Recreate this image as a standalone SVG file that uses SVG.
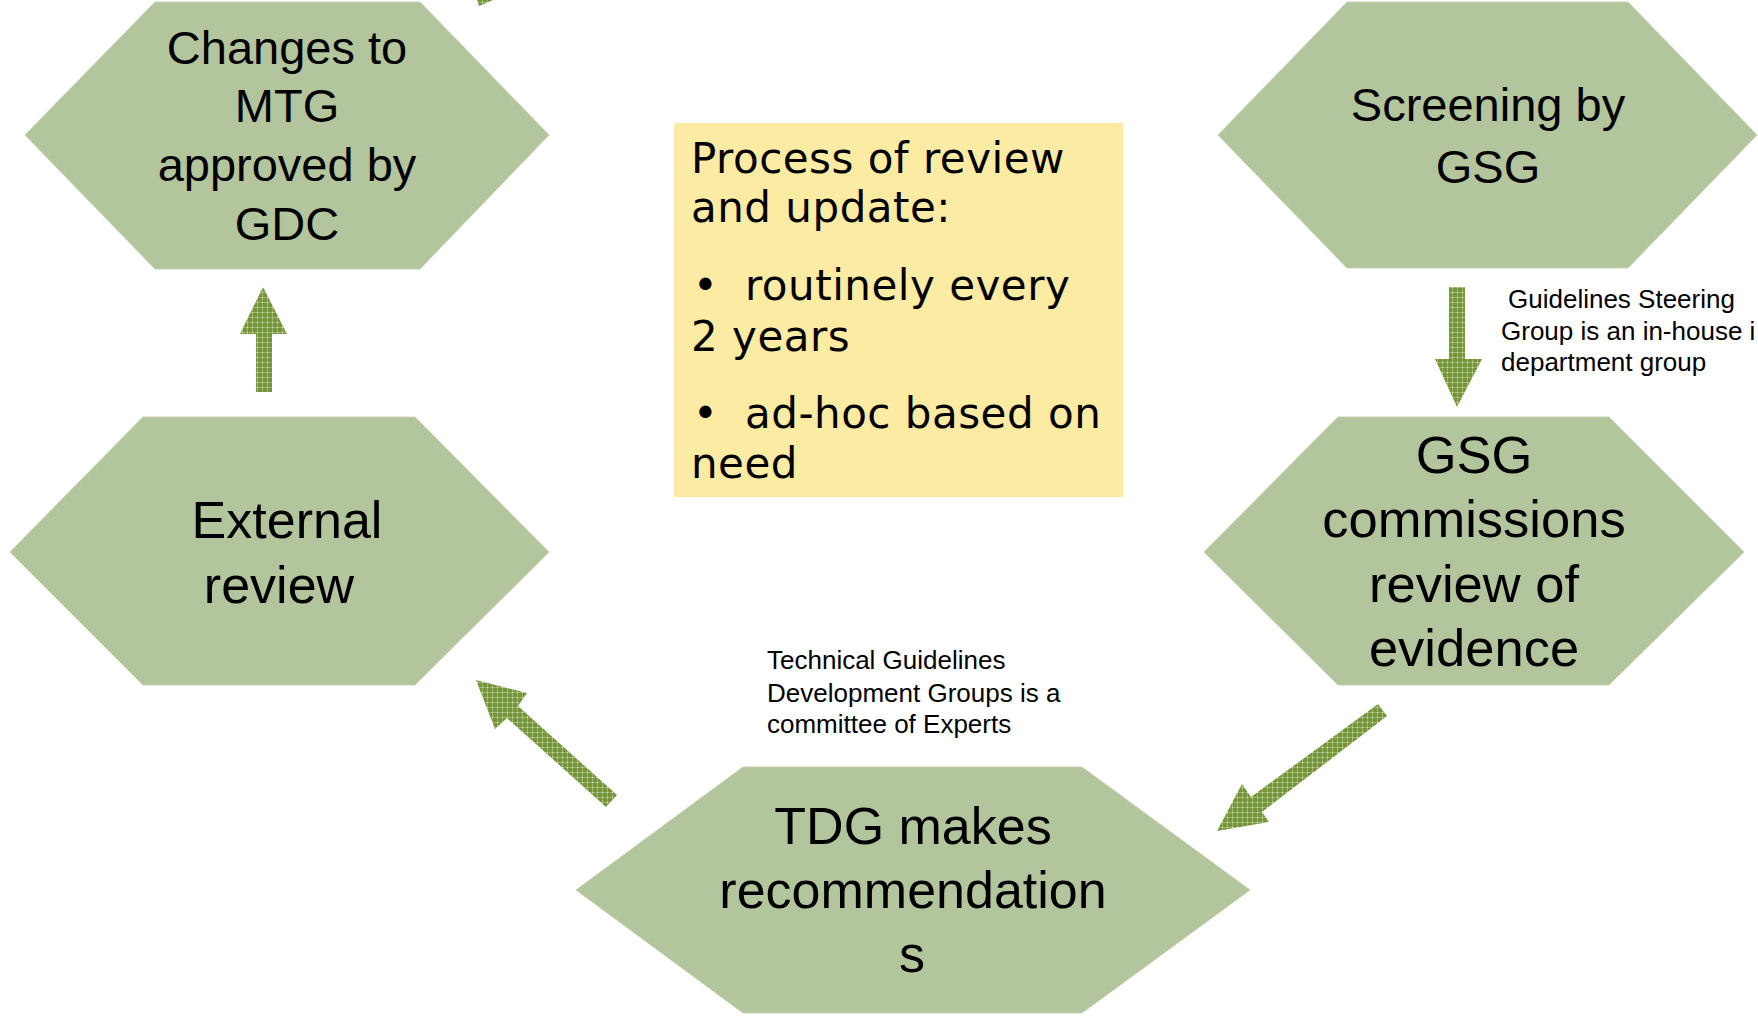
<svg xmlns="http://www.w3.org/2000/svg" width="1758" height="1016" viewBox="0 0 1758 1016">
<defs>
<pattern id="plaid" width="5" height="5" patternUnits="userSpaceOnUse">
<rect width="5" height="5" fill="#76933D"/>
<rect x="0" y="2" width="5" height="1" fill="#9AB767"/>
<rect x="2" y="0" width="1" height="5" fill="#9AB767"/>
<rect x="2" y="2" width="1" height="1" fill="#D6E3C2"/>
</pattern>
<style>
.hex{fill:#B3C59D;stroke:#C4D2B2;stroke-width:1}
.ht{font-family:"Liberation Sans",Arial,sans-serif;fill:#000;text-anchor:middle}
.note{font-family:"Liberation Sans",Arial,sans-serif;font-size:26px;fill:#000}
.box{font-family:"DejaVu Sans",Verdana,sans-serif;font-size:42px;letter-spacing:0.5px;fill:#000}
.arrow{fill:url(#plaid)}
</style>
</defs>
<rect width="1758" height="1016" fill="#FFFFFF"/>

<g id="connectors">
<polygon class="arrow" points="477,0 493,0 479,6"/>
<polygon class="arrow" points="256,392 272,392 272,334 287,334 263,287 240,334 256,334"/>
<polygon class="arrow" points="1449,287 1465,287 1465,359 1482,359 1457,407 1435,359 1449,359"/>
<polygon class="arrow" points="1378,704 1387,716 1262,812 1269,822 1217,831 1242,784 1251,797"/>
<polygon class="arrow" points="617,795 606,807 507,718 495,729 476,680 527,693 518,706"/>
</g>

<g id="node-changes">
<polygon class="hex" points="25,135 155,2 420,2 549,135 420,269 155,269"/>
<text class="ht" font-size="47" x="287" y="64">Changes to</text>
<text class="ht" font-size="47" x="287" y="122">MTG</text>
<text class="ht" font-size="47" x="287" y="181">approved by</text>
<text class="ht" font-size="47" x="287" y="240">GDC</text>
</g>

<g id="node-screening">
<polygon class="hex" points="1218,135 1347,2 1628,2 1757,135 1628,268 1347,268"/>
<text class="ht" font-size="47" x="1488" y="121">Screening by</text>
<text class="ht" font-size="47" x="1488" y="183">GSG</text>
</g>

<g id="node-external">
<polygon class="hex" points="10,552 143,417 415,417 549,552 415,685 143,685"/>
<text class="ht" font-size="52" x="287" y="538">External</text>
<text class="ht" font-size="52" x="279" y="603">review</text>
</g>

<g id="node-commissions">
<polygon class="hex" points="1204,552 1338,417 1609,417 1744,552 1609,685 1338,685"/>
<text class="ht" font-size="52.5" x="1474" y="473">GSG</text>
<text class="ht" font-size="52.5" x="1474" y="537">commissions</text>
<text class="ht" font-size="52.5" x="1474" y="602">review of</text>
<text class="ht" font-size="52.5" x="1474" y="666">evidence</text>
</g>

<g id="node-tdg">
<polygon class="hex" points="576,890 743,767 1082,767 1250,890 1082,1013 743,1013"/>
<text class="ht" font-size="52" x="913" y="844">TDG makes</text>
<text class="ht" font-size="52" x="913" y="908">recommendation</text>
<text class="ht" font-size="52" x="912" y="972">s</text>
</g>

<g id="note-process">
<rect x="674" y="123" width="449" height="374" fill="#FCEBA3"/>
<text class="box" x="691" y="173">Process of review</text>
<text class="box" x="691" y="222">and update:</text>
<text class="box" x="693" y="300">•</text>
<text class="box" x="745" y="300">routinely every</text>
<text class="box" x="691" y="351">2 years</text>
<text class="box" x="693" y="428">•</text>
<text class="box" x="745" y="428">ad-hoc based on</text>
<text class="box" x="691" y="478">need</text>
</g>

<g id="note-gsg">
<text class="note" x="1508" y="308">Guidelines Steering</text>
<text class="note" x="1501" y="340">Group is an in-house i</text>
<text class="note" x="1501" y="371">department group</text>
</g>

<g id="note-tdg">
<text class="note" x="767" y="669">Technical Guidelines</text>
<text class="note" x="767" y="702">Development Groups is a</text>
<text class="note" x="767" y="733">committee of Experts</text>
</g>
</svg>
